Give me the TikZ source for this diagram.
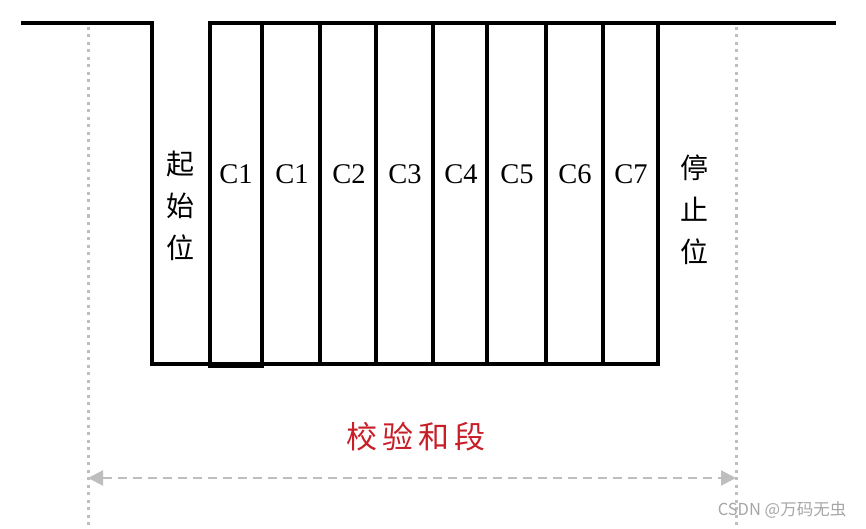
\documentclass[tikz,border=0pt]{standalone}
\usepackage{fontspec}
\newfontfamily\cjk{Noto Sans CJK SC}
\newfontfamily\serifb{Liberation Serif}
\usetikzlibrary{arrows.meta}
\definecolor{guide}{RGB}{190,190,190}
\definecolor{redtxt}{RGB}{200,30,40}
\tikzset{
  wave/.style={line width=4pt, line join=miter, black},
  guideline/.style={guide, line width=3pt, dash pattern=on 3pt off 4.5pt},
  span/.style={guide, line width=2pt, dash pattern=on 9pt off 6pt,
    {Triangle[length=15pt,width=15pt]}-{Triangle[length=15pt,width=15pt]}},
  bitlbl/.style={font=\serifb\fontsize{28.5}{30}\selectfont, inner sep=0pt},
  vlbl/.style={font=\cjk\fontsize{28}{42}\selectfont, align=center, inner sep=0pt},
}
\begin{document}
\begin{tikzpicture}[x=1pt,y=-1pt]
\useasboundingbox (0,0) rectangle (866,529);
% guide lines
\coordinate (gLt) at (88,27);
\coordinate (gLb) at (88,529);
\coordinate (gRt) at (736,27);
\coordinate (gRb) at (736,529);
\draw[guideline] (gLt) -- (gLb);
\draw[guideline] (gRt) -- (gRb);
% waveform
\draw[wave] (21,23) -- (152,23) -- (152,364) -- (658,364) -- (658,23);
\draw[wave] (210,366) -- (210,23) -- (836,23);
\draw[wave] (208,366) -- (262,366) -- (262,23);
\foreach \x in {320,376,433,487,546,603}
  \draw[wave] (\x,23) -- (\x,364);
% labels
\node[vlbl] (start) at (180,206) {起\\始\\位};
\node[vlbl] (stop) at (694,210) {停\\止\\位};
\node[bitlbl] (b0) at (236,174) {C1};
\node[bitlbl] (b1) at (292,174) {C1};
\node[bitlbl] (b2) at (349,174) {C2};
\node[bitlbl] (b3) at (405,174) {C3};
\node[bitlbl] (b4) at (461,174) {C4};
\node[bitlbl] (b5) at (517,174) {C5};
\node[bitlbl] (b6) at (575,174) {C6};
\node[bitlbl] (b7) at (631,174) {C7};
\node[font=\cjk\fontsize{31}{34}\selectfont, text=redtxt, inner sep=0pt] (sum) at (416,437) {校\,验\,和\,段};
% span arrow
\coordinate (aL) at (88,478);
\coordinate (aR) at (736,478);
\draw[span] (aL) -- (aR);
% watermark
\node[font=\cjk\fontsize{16.5}{18}\selectfont, text=gray!70, inner sep=0pt] (wm) at (782,510) {CSDN @万码无虫};
\end{tikzpicture}
\end{document}
